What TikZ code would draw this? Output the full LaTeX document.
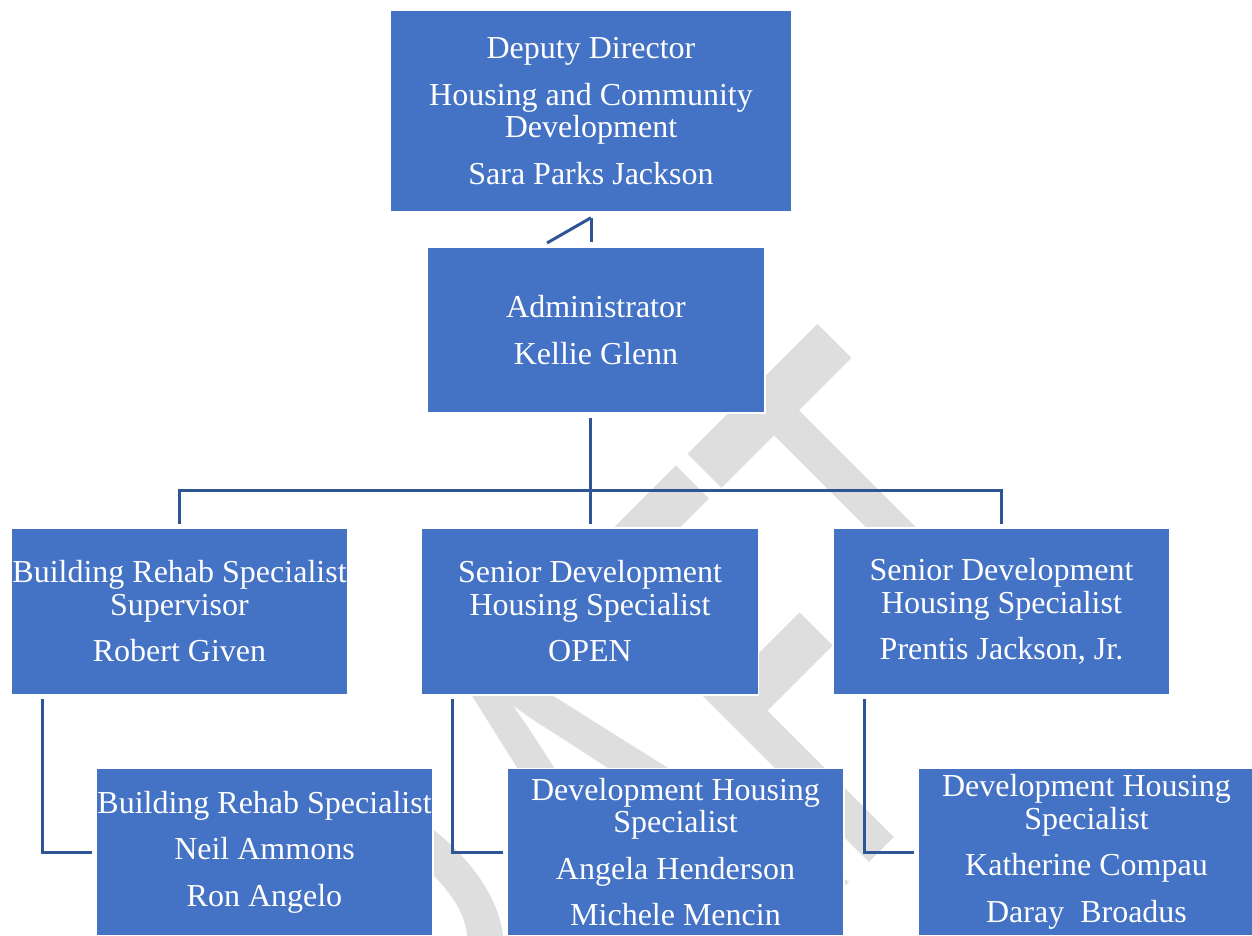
\documentclass[tikz,border=0pt]{standalone}
\usepackage{fontspec}
\setmainfont{Liberation Serif}
\newfontfamily\wmfont{Carlito}
\usepackage{graphicx}
\definecolor{boxblue}{RGB}{68,114,196}
\definecolor{linkblue}{RGB}{47,85,151}
\definecolor{wmgray}{RGB}{222,222,222}

\begin{document}
\begin{tikzpicture}[x=1pt, y=1pt,
    unit/.style={fill=boxblue, draw=white, line width=1.5pt, text=white, align=center,
        inner sep=0pt, minimum width=337pt, minimum height=167pt,
        font=\fontsize{32}{32.5}\selectfont},
    link/.style={draw=linkblue, line width=3pt}]
    \useasboundingbox (0,0) rectangle (1252,935);
    \begin{scope}
    \clip (0,0) rectangle (1252,935);

    % Watermark behind the chart
    \node[rotate=45, anchor=base, inner sep=0pt, text=wmgray] (wm) at (740,-57)
        {\scalebox{0.61}[1]{\wmfont\fontsize{650}{650}\selectfont DRAFT}};

    % Top two levels
    \node[unit, minimum width=402pt, minimum height=202pt] (dep) at (591,824)
        {Deputy Director\\[14pt] Housing and Community\\ Development\\[14pt] Sara Parks Jackson};
    \node[unit, minimum width=338pt, minimum height=166pt] (adm) at (596,605)
        {Administrator\\[14pt] Kellie Glenn};

    % Middle row
    \node[unit] (sup) at (179.5,323.5)
        {Building Rehab Specialist\\ Supervisor\\[14pt] Robert Given};
    \node[unit] (open) at (590,323.5)
        {Senior Development\\ Housing Specialist\\[14pt] OPEN};
    \node[unit] (prn) at (1001.5,323.5)
        {Senior Development\\ Housing Specialist\\[14pt] Prentis Jackson, Jr.};

    % Bottom row
    \node[unit] (brs) at (264.5,83)
        {Building Rehab Specialist\\[14pt] Neil Ammons\\[14pt] Ron Angelo};
    \node[unit] (dhsa) at (675.5,83)
        {Development Housing\\ Specialist\\[14pt] Angela Henderson\\[14pt] Michele Mencin};
    \node[unit] (dhsk) at (1086.5,83)
        {Development Housing\\ Specialist\\[14pt] Katherine Compau\\[14pt] Daray~~Broadus};

    % Connectors
    \coordinate (tick) at (547,692);
    \coordinate (bus) at (590,444);
    \draw[link] ([yshift=-5pt]dep.south) -- ([yshift=4pt]dep.south |- adm.north);
    \draw[link] ([yshift=-5pt]dep.south) -- (tick);
    \draw[link] ([yshift=-4pt]adm.south -| open.north) -- ([yshift=3pt]open.north);
    \draw[link] ([yshift=3pt]sup.north) |- (bus) -| ([yshift=3pt]prn.north);
    \draw[link] ([xshift=32pt,yshift=-3pt]sup.south west) |- ([xshift=-3pt]brs.west);
    \draw[link] ([xshift=32pt,yshift=-3pt]open.south west) |- ([xshift=-3pt]dhsa.west);
    \draw[link] ([xshift=32pt,yshift=-3pt]prn.south west) |- ([xshift=-3pt]dhsk.west);
    \end{scope}
\end{tikzpicture}
\end{document}
